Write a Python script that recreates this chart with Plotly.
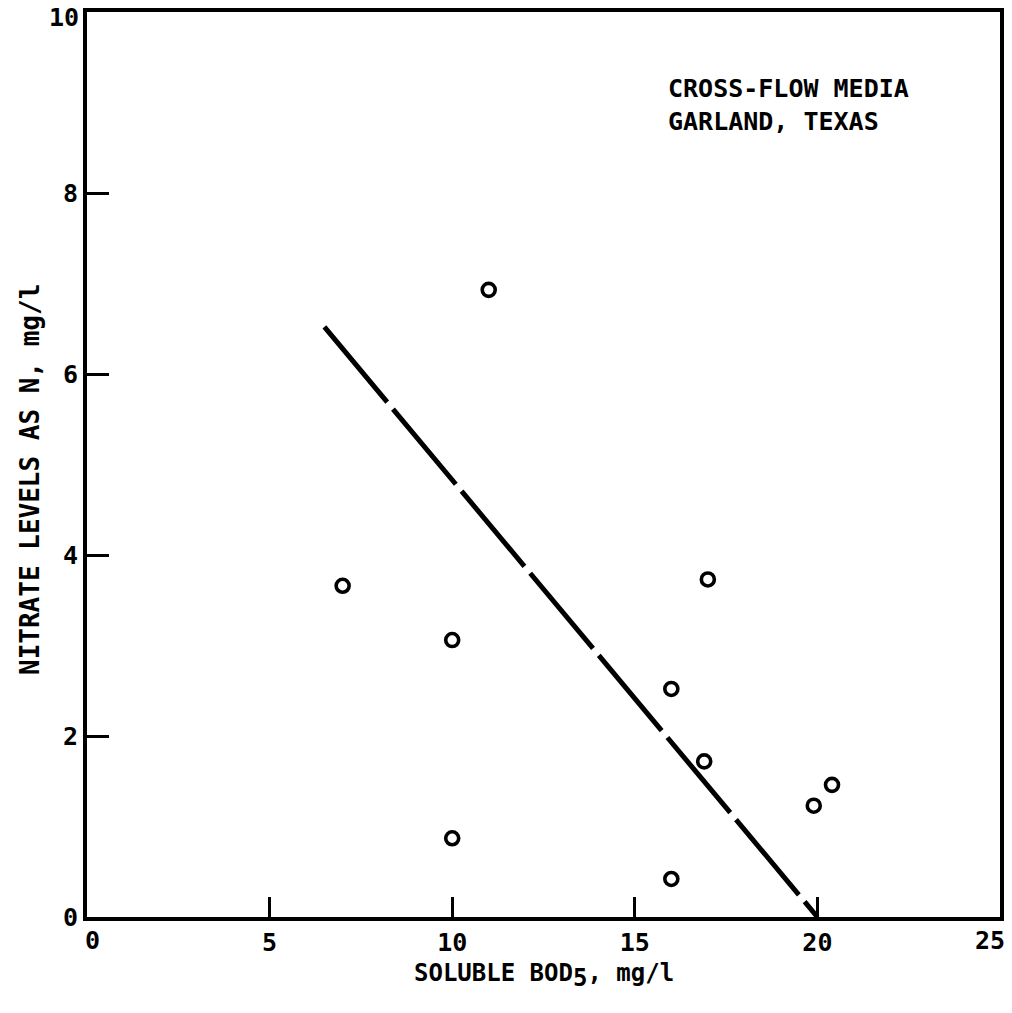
import plotly.graph_objects as go

# Soluble BOD5 (mg/l) vs nitrate as N (mg/l), cross-flow media, Garland TX
bod5 = [7, 10, 10, 11, 16, 16, 17, 16.9, 19.9, 20.4]
nitrate = [3.66, 3.06, 0.87, 6.93, 2.52, 0.42, 3.73, 1.72, 1.23, 1.46]

# Fitted trend line end points
fit_x = [6.5, 20.0]
fit_y = [6.52, 0.0]

x_ticks = [0, 5, 10, 15, 20, 25]
y_ticks = [0, 2, 4, 6, 8, 10]

FONT = "DejaVu Sans Mono"
L, R, T, B = 87, 12, 12, 96
W, H = 1012, 1013
PW, PH = W - L - R, H - T - B
TICK_FONT = dict(family=FONT, size=25, color="black", weight="bold")


def px_to_paper(px, py):
    return (px - L) / PW, (H - B - py) / PH


fig = go.Figure()

fig.add_trace(go.Scatter(
    x=fit_x, y=fit_y, mode="lines",
    line=dict(color="black", width=5, dash="98px,9px"),
    hoverinfo="skip", showlegend=False,
))

fig.add_trace(go.Scatter(
    x=bod5, y=nitrate, mode="markers",
    marker=dict(symbol="circle-open", size=13, color="black",
                line=dict(color="black", width=3.6)),
    showlegend=False,
))

axis_common = dict(
    showgrid=False, zeroline=False, automargin=False,
    showline=True, linecolor="black", linewidth=4, mirror=True,
    ticks="inside", tickcolor="black", tickwidth=3,
    tickfont=TICK_FONT,
)

# Ticks on the frame corners coincide with the frame itself; their labels
# are nudged inward and drawn separately below.
x_inner = x_ticks[1:-1]
y_inner = y_ticks[:-1]
fig.update_xaxes(range=[0, 25], tickvals=x_inner,
                 ticktext=[str(v) for v in x_inner], ticklen=20, **axis_common)
fig.update_yaxes(range=[0, 10], tickvals=y_inner,
                 ticktext=[str(v) for v in y_inner], ticklen=22, **axis_common)

fig.add_annotation(x=x_ticks[0], y=0, xref="x", yref="paper", text=str(x_ticks[0]),
                   showarrow=False, xanchor="center", yanchor="top",
                   xshift=5, yshift=-7, font=TICK_FONT)
fig.add_annotation(x=x_ticks[-1], y=0, xref="x", yref="paper", text=str(x_ticks[-1]),
                   showarrow=False, xanchor="center", yanchor="top",
                   xshift=-10, yshift=-7, font=TICK_FONT)
fig.add_annotation(x=0, y=y_ticks[-1], xref="paper", yref="y", text=str(y_ticks[-1]),
                   showarrow=False, xanchor="right", yanchor="middle",
                   xshift=-6, yshift=-5, font=TICK_FONT)

# Axis titles
xt = px_to_paper(543, 975)
fig.add_annotation(
    x=0.5, y=xt[1], xref="paper", yref="paper",
    xanchor="center", yanchor="middle", showarrow=False,
    text='SOLUBLE BOD<sub><span style="font-size:24px">5</span></sub>, mg/l',
    font=dict(family=FONT, size=24, color="black", weight="bold"),
)
yt = px_to_paper(30, 480)
fig.add_annotation(
    x=yt[0], y=yt[1], xref="paper", yref="paper",
    xanchor="center", yanchor="middle", showarrow=False, textangle=-90,
    text="NITRATE LEVELS AS N, mg/l",
    font=dict(family=FONT, size=26, color="black", weight="bold"),
)

# Site label
st = px_to_paper(666, 72)
fig.add_annotation(
    x=st[0], y=st[1], xref="paper", yref="paper",
    xanchor="left", yanchor="top", align="left", showarrow=False,
    text="CROSS-FLOW MEDIA<br>GARLAND, TEXAS",
    font=dict(family=FONT, size=25, color="black", weight="bold"),
)

fig.update_layout(
    width=W, height=H,
    margin=dict(l=L, r=R, t=T, b=B),
    paper_bgcolor="white", plot_bgcolor="white",
)

fig.write_html("out.html")
